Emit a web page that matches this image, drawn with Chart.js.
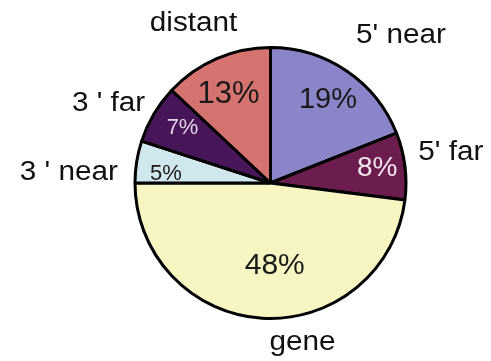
<!DOCTYPE html>
<html>
<head>
<meta charset="utf-8">
<script src="https://cdn.jsdelivr.net/npm/chart.js@4.4.0/dist/chart.umd.min.js"></script>
<style>
  html, body { margin: 0; padding: 0; background: #ffffff; }
  #wrap { width: 491px; height: 361px; }
</style>
</head>
<body>
<div id="wrap"><canvas id="pie" width="491" height="361"></canvas></div>
<script>
// Genomic location categories, clockwise from 12 o'clock
const categories = ["5' near", "5' far", "gene", "3 ' near", "3 ' far", "distant"];
// Share of sites in each category (%)
const shares = [19, 8, 48, 5, 7, 13];

const sliceColors = ['#8a85c8', '#6b1e4e', '#f7f5c2', '#d1e7ee', '#471658', '#d4736f'];

// Label styling per slice: inner percentage and outer category name.
// r = fraction of the radius, da = angle shift (degrees) from the slice middle.
const innerStyle = [
  { r: 0.74, da: 0.5,  size: 29, color: '#1a1a1a' },
  { r: 0.79, da: -0.8, size: 28, color: '#f4e6f0' },
  { r: 0.61, da: -6.5, size: 30, color: '#1a1a1a' },
  { r: 0.77, da: -4,   size: 22, color: '#1a1a1a' },
  { r: 0.76, da: 1.4,  size: 22, color: '#e0d0e8' },
  { r: 0.72, da: -1.9, size: 31, color: '#1a1a1a' }
];
const outerStyle = [
  { r: 1.44, da: 7.4 },
  { r: 1.34, da: -2.5 },
  { r: 1.19, da: -15 },
  { r: 1.48, da: -6 },
  { r: 1.32, da: -4.6 },
  { r: 1.30, da: -2.3 }
];
const outerFont = { size: 27, stretch: 1.1, color: '#111111' };

const sliceLabels = {
  id: 'sliceLabels',
  afterDatasetsDraw(chart) {
    const ctx = chart.ctx;
    const arcs = chart.getDatasetMeta(0).data;
    const values = chart.data.datasets[0].data;
    ctx.save();
    ctx.textAlign = 'center';
    ctx.textBaseline = 'middle';
    arcs.forEach((arc, i) => {
      const p = arc.getProps(['x', 'y', 'startAngle', 'endAngle', 'outerRadius'], true);
      const mid = (p.startAngle + p.endAngle) / 2;
      const R = p.outerRadius + 1;

      const si = innerStyle[i];
      const ai = mid + si.da * Math.PI / 180;
      ctx.fillStyle = si.color;
      ctx.font = si.size + 'px "Liberation Sans", Arial, sans-serif';
      ctx.fillText(values[i] + '%', p.x + Math.cos(ai) * R * si.r, p.y + Math.sin(ai) * R * si.r);

      const so = outerStyle[i];
      const ao = mid + so.da * Math.PI / 180;
      const ox = p.x + Math.cos(ao) * R * so.r;
      const oy = p.y + Math.sin(ao) * R * so.r;
      ctx.save();
      ctx.translate(ox, oy);
      ctx.scale(outerFont.stretch, 1);
      ctx.fillStyle = outerFont.color;
      ctx.font = outerFont.size + 'px "Liberation Sans", Arial, sans-serif';
      ctx.fillText(chart.data.labels[i], 0, 0);
      ctx.restore();
    });
    ctx.restore();
  }
};

new Chart(document.getElementById('pie'), {
  type: 'pie',
  data: {
    labels: categories,
    datasets: [{
      data: shares,
      backgroundColor: sliceColors,
      borderColor: '#000000',
      borderWidth: 3
    }]
  },
  options: {
    responsive: false,
    animation: false,
    layout: { padding: { left: 133, right: 83, top: 46, bottom: 41 } },
    plugins: {
      legend: { display: false },
      tooltip: { enabled: false }
    }
  },
  plugins: [sliceLabels]
});
</script>
</body>
</html>
